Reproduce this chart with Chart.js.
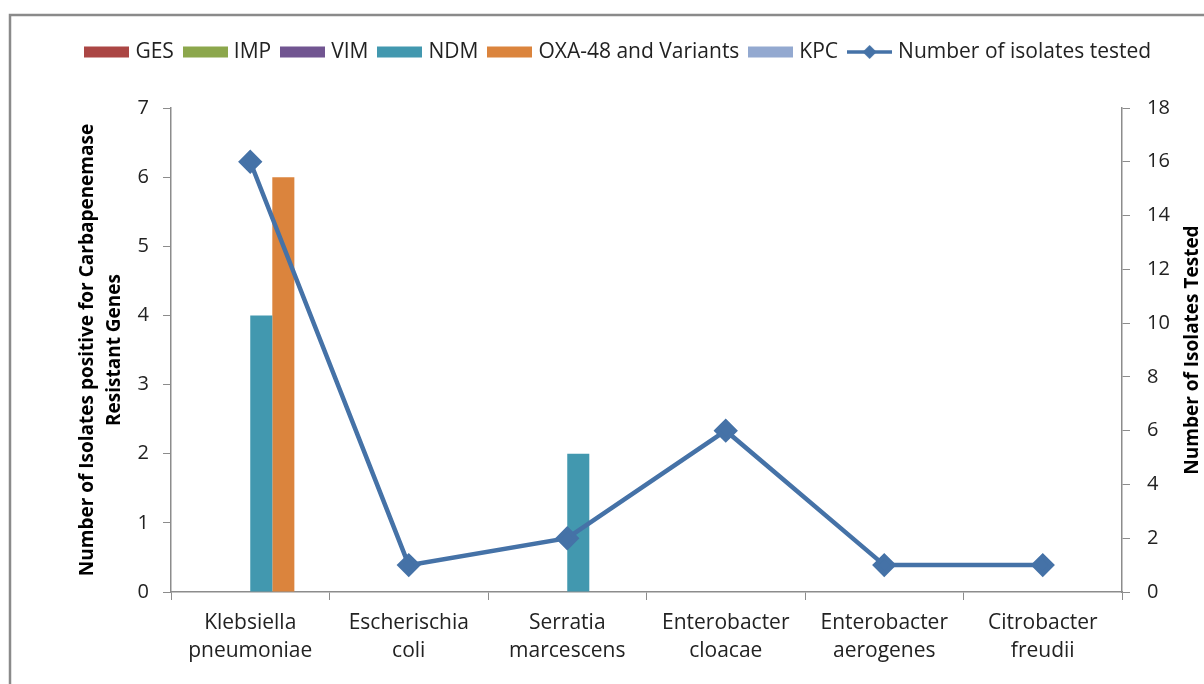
<!DOCTYPE html>
<html>
<head>
<meta charset="utf-8">
<script src="https://cdn.jsdelivr.net/npm/chart.js@4/dist/chart.umd.min.js"></script>
<style>
  html, body { margin: 0; padding: 0; background: #ffffff; }
  #wrap { width: 1204px; height: 684px; position: relative; }
</style>
</head>
<body>
<div id="wrap"><canvas id="c" width="1204" height="684"></canvas></div>
<script>
// ---- Data ----
const categories = [
  ["Klebsiella", "pneumoniae"],
  ["Escherischia", "coli"],
  ["Serratia", "marcescens"],
  ["Enterobacter", "cloacae"],
  ["Enterobacter", "aerogenes"],
  ["Citrobacter", "freudii"]
];
const gesValues = [0, 0, 0, 0, 0, 0];
const impValues = [0, 0, 0, 0, 0, 0];
const vimValues = [0, 0, 0, 0, 0, 0];
const ndmValues = [4, 0, 2, 0, 0, 0];
const oxaValues = [6, 0, 0, 0, 0, 0];
const kpcValues = [0, 0, 0, 0, 0, 0];
const isolatesTested = [16, 1, 2, 6, 1, 1];

const seriesNames = ["GES", "IMP", "VIM", "NDM", "OXA-48 and Variants", "KPC", "Number of isolates tested"];
const leftTitle = ["Number of Isolates positive for Carbapenemase", "Resistant Genes"];
const rightTitle = "Number of Isolates Tested";

// ---- Styles ----
const FONT = "'Open Sans', Lato, sans-serif";
const colors = ["#AB4644", "#8CA74C", "#715591", "#4298AF", "#DB843D", "#93A9D0"];
const lineColor = "#4572A7";
const axisColor = "#8C8C8C";
const textColor = "#222222";

function makeRectSwatch(color) {
  const c = document.createElement('canvas');
  c.width = 45; c.height = 12;
  const g = c.getContext('2d');
  g.fillStyle = color;
  g.fillRect(0, 0.5, 45, 11);
  return c;
}
function makeLineSwatch(color) {
  const c = document.createElement('canvas');
  c.width = 45; c.height = 18;
  const g = c.getContext('2d');
  g.strokeStyle = color; g.lineWidth = 3.5;
  g.beginPath(); g.moveTo(0, 9); g.lineTo(45, 9); g.stroke();
  g.fillStyle = color;
  g.beginPath(); g.moveTo(22.5, 2); g.lineTo(29.5, 9); g.lineTo(22.5, 16); g.lineTo(15.5, 9); g.closePath(); g.fill();
  return c;
}

const barData = [gesValues, impValues, vimValues, ndmValues, oxaValues, kpcValues];
const datasets = barData.map((vals, i) => ({
  type: 'bar',
  label: seriesNames[i],
  data: vals,
  backgroundColor: colors[i],
  borderWidth: 0,
  yAxisID: 'y',
  order: 1,
  categoryPercentage: 0.835,
  barPercentage: 1.0
}));
datasets.push({
  type: 'line',
  label: seriesNames[6],
  data: isolatesTested,
  borderColor: lineColor,
  backgroundColor: lineColor,
  borderWidth: 4.5,
  pointStyle: 'rectRot',
  pointRadius: 9,
  pointHoverRadius: 9,
  pointBackgroundColor: lineColor,
  pointBorderColor: lineColor,
  yAxisID: 'y1',
  order: 0,
  tension: 0
});

const framePlugin = {
  id: 'frame',
  beforeDraw(chart) {
    const ctx = chart.ctx;
    ctx.save();
    ctx.fillStyle = '#ffffff';
    ctx.fillRect(0, 0, chart.width, chart.height);
    ctx.strokeStyle = '#8A8A8A';
    ctx.lineWidth = 2.5;
    ctx.strokeRect(10, 15, 1400, 1000);
    ctx.restore();
  }
};

const layoutPlugin = {
  id: 'layoutFix',
  beforeLayout(chart) {
    const lg = chart.legend;
    if (lg && !lg._patched) {
      const orig = lg.fit.bind(lg);
      lg.fit = function () { orig(); this.height = 108; };
      lg._patched = true;
    }
  },
  afterLayout(chart) {
    const lg = chart.legend;
    if (lg) {
      lg.top = 28;
      lg.left = 18;
      lg.right = 1204 + 18;
    }
  }
};

const rightTitlePlugin = {
  id: 'rightTitle',
  afterDraw(chart) {
    const ctx = chart.ctx;
    const a = chart.chartArea;
    ctx.save();
    ctx.translate(1193, (a.top + a.bottom) / 2);
    ctx.rotate(-Math.PI / 2);
    ctx.font = "bold 19px " + FONT;
    ctx.fillStyle = '#000000';
    ctx.textAlign = 'center';
    ctx.textBaseline = 'middle';
    ctx.fillText(rightTitle, 0, 0);
    ctx.restore();
  }
};

new Chart(document.getElementById('c'), {
  data: { labels: categories, datasets: datasets },
  plugins: [framePlugin, layoutPlugin, rightTitlePlugin],
  options: {
    responsive: false,
    animation: false,
    devicePixelRatio: 1,
    layout: { padding: 0 },
    plugins: {
      tooltip: { enabled: false },
      legend: {
        display: true,
        position: 'top',
        align: 'center',
        labels: {
          usePointStyle: true,
          pointStyleWidth: 36,
          boxWidth: 36,
          boxHeight: 11,
          padding: 13.5,
          color: textColor,
          font: { family: FONT, size: 21 },
          generateLabels(chart) {
            return chart.data.datasets.map((ds, i) => ({
              text: ds.label,
              fillStyle: ds.backgroundColor,
              strokeStyle: ds.backgroundColor,
              lineWidth: 0,
              pointStyle: ds.type === 'line' ? makeLineSwatch(ds.borderColor) : makeRectSwatch(ds.backgroundColor),
              datasetIndex: i,
              hidden: false,
              fontColor: textColor
            }));
          }
        }
      }
    },
    scales: {
      x: {
        type: 'category',
        offset: true,
        afterFit(s) { s.height = 92; },
        grid: { display: true, drawOnChartArea: false, offset: true, tickLength: 8, color: axisColor },
        border: { display: true, color: axisColor, width: 1.5 },
        ticks: {
          autoSkip: false, maxRotation: 0, minRotation: 0, padding: 9,
          color: textColor,
          font: { family: FONT, size: 21, lineHeight: 1.32 }
        }
      },
      y: {
        type: 'linear',
        position: 'left',
        min: 0, max: 7,
        afterFit(s) { s.width = 171; },
        grid: { display: true, drawOnChartArea: false, tickLength: 8, color: axisColor },
        border: { display: true, color: axisColor, width: 1.5 },
        ticks: { stepSize: 1, padding: 14, color: textColor, font: { family: FONT, size: 20 } },
        title: {
          display: true,
          text: leftTitle,
          color: '#000000',
          padding: { top: 74, bottom: 0 },
          font: { family: FONT, size: 19, weight: 'bold', lineHeight: 1.42 }
        }
      },
      y1: {
        type: 'linear',
        position: 'right',
        min: 0, max: 18,
        afterFit(s) { s.width = 82; },
        grid: { display: true, drawOnChartArea: false, tickLength: 8, color: axisColor },
        border: { display: true, color: axisColor, width: 1.5 },
        ticks: { stepSize: 2, padding: 17, color: textColor, font: { family: FONT, size: 20 } }
      }
    }
  }
});
</script>
</body>
</html>
